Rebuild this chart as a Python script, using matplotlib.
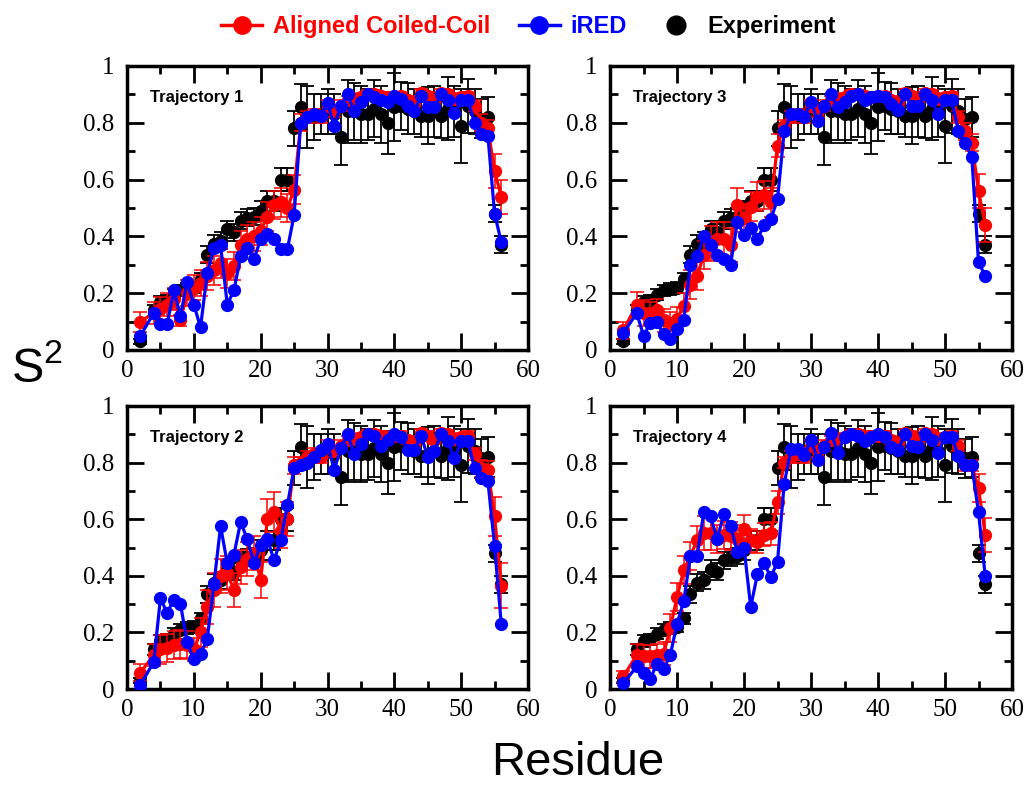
import matplotlib
matplotlib.use('Agg')
import matplotlib.pyplot as plt
from matplotlib.lines import Line2D
from matplotlib.ticker import MultipleLocator, FormatStrFormatter

# residue numbers (residue 3 has no data)
residue = [2] + list(range(4, 57))

# experimental S2 and its error
experiment = [0.03, 0.14, 0.17, 0.175, 0.195, 0.21, 0.215, 0.22, 0.25, 0.335,
              0.375, 0.385, 0.425, 0.415, 0.455, 0.465, 0.47, 0.49, 0.525, 0.525,
              0.60, 0.60, 0.78, 0.855, 0.82, 0.82, 0.83, 0.84, 0.83, 0.75,
              0.84, 0.84, 0.83, 0.83, 0.85, 0.83, 0.80, 0.855, 0.86, 0.85,
              0.84, 0.825, 0.825, 0.84, 0.825, 0.85, 0.84, 0.79, 0.86, 0.84,
              0.815, 0.82, 0.48, 0.37]
experiment_err = [0.01, 0.02, 0.02, 0.02, 0.02, 0.02, 0.02, 0.02, 0.02, 0.03,
                  0.03, 0.03, 0.03, 0.03, 0.03, 0.03, 0.03, 0.035, 0.035, 0.035,
                  0.04, 0.04, 0.06, 0.08, 0.11, 0.08, 0.07, 0.08, 0.07, 0.10,
                  0.11, 0.10, 0.10, 0.09, 0.10, 0.10, 0.11, 0.12, 0.085, 0.09,
                  0.08, 0.075, 0.10, 0.09, 0.08, 0.11, 0.09, 0.13, 0.095, 0.08,
                  0.07, 0.07, 0.03, 0.03]

# trajectory 1
ccoil_1 = [0.10, 0.13, 0.145, 0.16, 0.18, 0.105, 0.20, 0.22, 0.235, 0.26,
           0.28, 0.305, 0.27, 0.295, 0.37, 0.39, 0.40, 0.42, 0.47, 0.51,
           0.52, 0.50, 0.565, 0.80, 0.82, 0.83, 0.82, 0.86, 0.84, 0.86,
           0.88, 0.885, 0.89, 0.90, 0.90, 0.895, 0.89, 0.895, 0.895, 0.88,
           0.87, 0.905, 0.895, 0.88, 0.905, 0.90, 0.885, 0.89, 0.895, 0.86,
           0.80, 0.78, 0.63, 0.54]
ccoil_err_1 = [0.035, 0.04, 0.04, 0.04, 0.04, 0.02, 0.045, 0.045, 0.045, 0.05,
               0.05, 0.05, 0.05, 0.05, 0.05, 0.05, 0.05, 0.05, 0.05, 0.05,
               0.05, 0.05, 0.05, 0.03, 0.02, 0.02, 0.02, 0.02, 0.02, 0.02,
               0.015, 0.015, 0.015, 0.015, 0.015, 0.015, 0.015, 0.015, 0.015, 0.015,
               0.015, 0.015, 0.015, 0.015, 0.015, 0.015, 0.015, 0.015, 0.015, 0.02,
               0.03, 0.03, 0.06, 0.06]
ired_1 = [0.05, 0.13, 0.09, 0.09, 0.21, 0.12, 0.24, 0.16, 0.08, 0.27,
          0.36, 0.37, 0.16, 0.21, 0.33, 0.36, 0.32, 0.39, 0.41, 0.39,
          0.355, 0.355, 0.475, 0.80, 0.82, 0.83, 0.825, 0.87, 0.79, 0.86,
          0.90, 0.84, 0.875, 0.90, 0.89, 0.88, 0.875, 0.895, 0.885, 0.86,
          0.84, 0.895, 0.857, 0.857, 0.90, 0.88, 0.833, 0.88, 0.88, 0.80,
          0.76, 0.755, 0.48, 0.38]

# trajectory 2
ccoil_2 = [0.058, 0.12, 0.14, 0.145, 0.155, 0.16, 0.155, 0.14, 0.20, 0.29,
           0.35, 0.40, 0.41, 0.35, 0.43, 0.46, 0.48, 0.385, 0.60, 0.625,
           0.56, 0.60, 0.79, 0.80, 0.82, 0.83, 0.82, 0.86, 0.84, 0.86,
           0.88, 0.885, 0.89, 0.90, 0.90, 0.895, 0.89, 0.895, 0.895, 0.88,
           0.87, 0.905, 0.895, 0.88, 0.905, 0.90, 0.885, 0.89, 0.895, 0.83,
           0.78, 0.775, 0.61, 0.365]
ccoil_err_2 = [0.03, 0.04, 0.05, 0.05, 0.05, 0.05, 0.05, 0.04, 0.05, 0.06,
               0.06, 0.06, 0.06, 0.06, 0.06, 0.06, 0.06, 0.065, 0.07, 0.07,
               0.06, 0.06, 0.03, 0.02, 0.02, 0.02, 0.02, 0.02, 0.02, 0.02,
               0.015, 0.015, 0.015, 0.015, 0.015, 0.015, 0.015, 0.015, 0.015, 0.015,
               0.015, 0.015, 0.015, 0.015, 0.015, 0.015, 0.015, 0.015, 0.015, 0.02,
               0.03, 0.03, 0.07, 0.08]
ired_2 = [0.015, 0.095, 0.32, 0.27, 0.315, 0.30, 0.165, 0.105, 0.125, 0.175,
          0.37, 0.575, 0.445, 0.475, 0.59, 0.53, 0.445, 0.51, 0.53, 0.455,
          0.525, 0.65, 0.78, 0.79, 0.80, 0.82, 0.845, 0.865, 0.775, 0.85,
          0.90, 0.83, 0.865, 0.90, 0.895, 0.86, 0.88, 0.90, 0.89, 0.845,
          0.845, 0.895, 0.82, 0.84, 0.90, 0.875, 0.815, 0.875, 0.875, 0.78,
          0.745, 0.735, 0.505, 0.23]

# trajectory 3
ccoil_3 = [0.07, 0.16, 0.13, 0.13, 0.14, 0.105, 0.095, 0.11, 0.155, 0.23,
           0.26, 0.335, 0.375, 0.39, 0.39, 0.37, 0.51, 0.465, 0.505, 0.54,
           0.545, 0.52, 0.72, 0.79, 0.82, 0.83, 0.82, 0.86, 0.84, 0.86,
           0.88, 0.885, 0.89, 0.90, 0.90, 0.895, 0.89, 0.895, 0.895, 0.88,
           0.87, 0.905, 0.895, 0.88, 0.905, 0.90, 0.885, 0.89, 0.895, 0.82,
           0.77, 0.73, 0.56, 0.44]
ccoil_err_3 = [0.03, 0.045, 0.045, 0.04, 0.04, 0.04, 0.04, 0.04, 0.045, 0.05,
               0.05, 0.05, 0.06, 0.06, 0.06, 0.06, 0.06, 0.05, 0.05, 0.05,
               0.05, 0.05, 0.04, 0.02, 0.02, 0.02, 0.02, 0.02, 0.02, 0.02,
               0.015, 0.015, 0.015, 0.015, 0.015, 0.015, 0.015, 0.015, 0.015, 0.015,
               0.015, 0.015, 0.015, 0.015, 0.015, 0.015, 0.015, 0.015, 0.015, 0.02,
               0.03, 0.03, 0.06, 0.06]
ired_3 = [0.06, 0.13, 0.05, 0.095, 0.10, 0.055, 0.04, 0.075, 0.105, 0.30,
          0.33, 0.40, 0.37, 0.335, 0.32, 0.30, 0.45, 0.405, 0.43, 0.39,
          0.44, 0.46, 0.53, 0.77, 0.83, 0.83, 0.82, 0.875, 0.805, 0.86,
          0.90, 0.855, 0.875, 0.895, 0.90, 0.88, 0.89, 0.895, 0.89, 0.867,
          0.845, 0.90, 0.86, 0.86, 0.90, 0.88, 0.83, 0.88, 0.88, 0.77,
          0.73, 0.68, 0.31, 0.26]

# trajectory 4
ccoil_4 = [0.045, 0.12, 0.115, 0.115, 0.12, 0.125, 0.215, 0.325, 0.42, 0.47,
           0.525, 0.55, 0.55, 0.53, 0.545, 0.54, 0.53, 0.565, 0.525, 0.52,
           0.545, 0.55, 0.66, 0.80, 0.82, 0.83, 0.82, 0.86, 0.84, 0.86,
           0.88, 0.885, 0.89, 0.90, 0.90, 0.895, 0.89, 0.895, 0.895, 0.88,
           0.87, 0.905, 0.895, 0.88, 0.905, 0.90, 0.885, 0.89, 0.895, 0.86,
           0.79, 0.79, 0.71, 0.545]
ccoil_err_4 = [0.02, 0.04, 0.04, 0.04, 0.04, 0.04, 0.05, 0.05, 0.05, 0.05,
               0.05, 0.06, 0.06, 0.05, 0.05, 0.05, 0.05, 0.05, 0.04, 0.04,
               0.04, 0.04, 0.04, 0.02, 0.02, 0.02, 0.02, 0.02, 0.02, 0.02,
               0.015, 0.015, 0.015, 0.015, 0.015, 0.015, 0.015, 0.015, 0.015, 0.015,
               0.015, 0.015, 0.015, 0.015, 0.015, 0.015, 0.015, 0.015, 0.015, 0.02,
               0.02, 0.02, 0.05, 0.06]
ired_4 = [0.02, 0.08, 0.055, 0.035, 0.09, 0.07, 0.12, 0.23, 0.31, 0.47,
          0.47, 0.625, 0.61, 0.53, 0.62, 0.575, 0.485, 0.50, 0.29, 0.405,
          0.445, 0.395, 0.45, 0.725, 0.847, 0.847, 0.827, 0.88, 0.81, 0.855,
          0.905, 0.835, 0.89, 0.90, 0.895, 0.875, 0.89, 0.90, 0.89, 0.855,
          0.845, 0.90, 0.86, 0.855, 0.90, 0.88, 0.835, 0.89, 0.89, 0.823,
          0.79, 0.79, 0.625, 0.40]

# axes placement in figure fractions: (left, bottom, width, height)
W, H = 1032, 785
def frac(l, t, r, b):
    return [l / W, 1 - b / H, (r - l) / W, (b - t) / H]

panels = [
    ('Trajectory 1', ccoil_1, ccoil_err_1, ired_1, frac(127, 66, 528, 350)),
    ('Trajectory 3', ccoil_3, ccoil_err_3, ired_3, frac(610, 66, 1012, 350)),
    ('Trajectory 2', ccoil_2, ccoil_err_2, ired_2, frac(127, 406, 528, 689)),
    ('Trajectory 4', ccoil_4, ccoil_err_4, ired_4, frac(610, 406, 1012, 689)),
]

RED = '#ff0000'
BLUE = '#0000ff'

fig = plt.figure(figsize=(10.32, 7.85), dpi=100)

for name, cc, cc_err, ired, pos in panels:
    ax = fig.add_axes(pos)
    ax.errorbar(residue, experiment, yerr=experiment_err, fmt='o', color='black',
                ms=8.5, elinewidth=1.3, capsize=5, capthick=1.3, zorder=2)
    ax.errorbar(residue, cc, yerr=cc_err, fmt='-o', color=RED, lw=2.3, ms=8.5,
                elinewidth=1.1, capsize=5, capthick=1.1, zorder=3)
    ax.plot(residue, ired, '-o', color=BLUE, lw=2.3, ms=8.5, zorder=4)

    ax.set_xlim(0, 60)
    ax.set_ylim(0, 1)
    ax.xaxis.set_major_locator(MultipleLocator(10))
    ax.xaxis.set_minor_locator(MultipleLocator(5))
    ax.yaxis.set_major_locator(MultipleLocator(0.2))
    ax.yaxis.set_minor_locator(MultipleLocator(0.1))
    ax.yaxis.set_major_formatter(FormatStrFormatter('%g'))
    ax.tick_params(which='both', direction='in', top=True, right=True, width=2)
    ax.tick_params(which='major', length=12)
    ax.tick_params(which='minor', length=6)
    ax.tick_params(axis='x', pad=7)
    ax.tick_params(axis='y', pad=9)
    for lab in ax.get_xticklabels() + ax.get_yticklabels():
        lab.set_fontfamily('Liberation Serif')
        lab.set_fontsize(18)
    for sp in ax.spines.values():
        sp.set_linewidth(2.5)
    ax.text(0.057, 0.89, name, transform=ax.transAxes, ha='left', va='center',
            fontsize=12, fontweight='bold', family='Liberation Sans')

fig.text(0.036, 0.53, r'$\mathregular{S^2}$', fontsize=35,
         family='Liberation Sans', ha='center', va='center')
fig.text(0.56, 0.028, 'Residue', fontsize=34, family='Liberation Sans',
         ha='center', va='center')

handles = [
    Line2D([], [], color=RED, marker='o', lw=2.5, ms=12.5),
    Line2D([], [], color=BLUE, marker='o', lw=2.5, ms=12.5),
    Line2D([], [], color='black', marker='o', lw=0, ms=13.5),
]
fig.legend(handles, ['Aligned Coiled-Coil', 'iRED', 'Experiment'],
           loc='center', bbox_to_anchor=(0.512, 0.966), ncol=3, frameon=False,
           handlelength=1.75, handletextpad=0.45, columnspacing=1.2,
           labelcolor=[RED, BLUE, 'black'],
           prop={'family': 'Liberation Sans', 'weight': 'bold', 'size': 17})

plt.savefig('out.png', dpi=100)
